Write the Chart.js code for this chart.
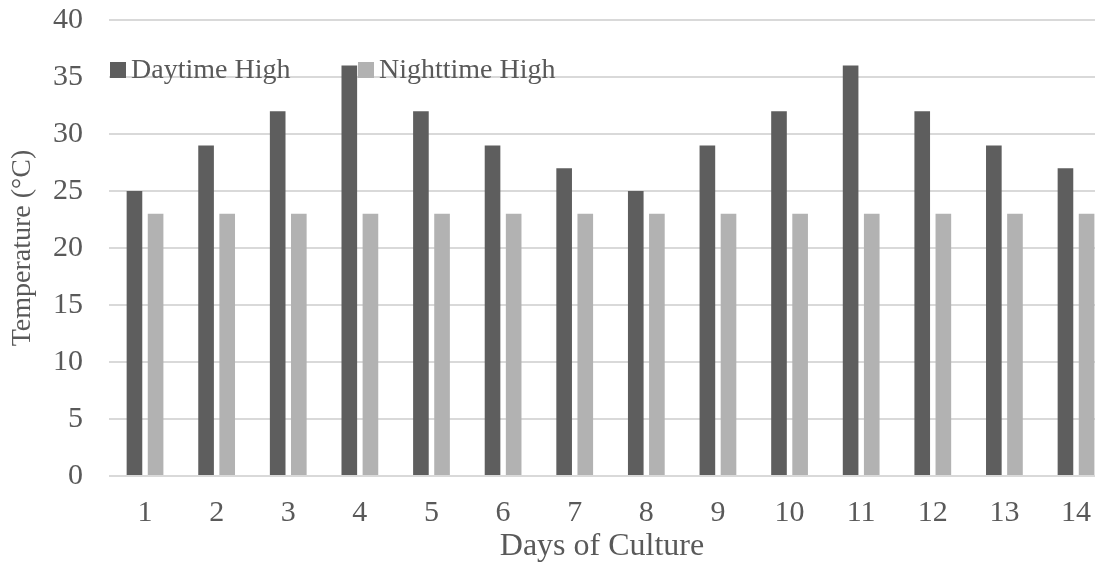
<!DOCTYPE html>
<html>
<head>
<meta charset="utf-8">
<script src="https://cdn.jsdelivr.net/npm/chart.js@4/dist/chart.umd.min.js"></script>
<style>
  html, body { margin: 0; padding: 0; background: #ffffff; }
  #wrap { width: 1105px; height: 567px; }
</style>
</head>
<body>
<div id="wrap"><canvas id="chart" width="1105" height="567"></canvas></div>
<script>
// Daily temperature highs over the culture period
const days = ['1','2','3','4','5','6','7','8','9','10','11','12','13','14'];
const daytimeHigh = [25, 29, 32, 36, 32, 29, 27, 25, 29, 32, 36, 32, 29, 27];
const nighttimeHigh = [23, 23, 23, 23, 23, 23, 23, 23, 23, 23, 23, 23, 23, 23];
const seriesNames = ['Daytime High', 'Nighttime High'];
const yTicks = { min: 0, max: 40, step: 5 };

const TEXT = '#595959';
const FONT = 'Liberation Serif, Times New Roman, serif';
const CLEAR = 'rgba(0,0,0,0)';

// Legend drawn over the top-left of the plot area
const overlayLegend = {
  id: 'overlayLegend',
  afterDraw(chart) {
    const ctx = chart.ctx;
    const area = chart.chartArea;
    const y = area.top + 50;
    const starts = [area.left + 1, area.left + 249];
    ctx.save();
    ctx.font = '28px ' + FONT;
    ctx.textBaseline = 'middle';
    chart.data.datasets.forEach((ds, i) => {
      const x = starts[i];
      ctx.fillStyle = ds.backgroundColor;
      ctx.fillRect(x, y - 8, 16, 16);
      ctx.fillStyle = TEXT;
      ctx.fillText(ds.label, x + 21, y + 1);
    });
    ctx.restore();
  }
};

// Day numbers map onto a numeric axis so the first and last days can sit
// at slightly different distances from the plot edges.
const toPoints = (arr) => arr.map((v, i) => ({ x: Number(days[i]), y: v }));

new Chart(document.getElementById('chart'), {
  type: 'bar',
  data: {
    datasets: [
      { label: seriesNames[0], data: toPoints(daytimeHigh), backgroundColor: '#5e5e5e' },
      { label: seriesNames[1], data: toPoints(nighttimeHigh), backgroundColor: '#b2b2b2' }
    ]
  },
  options: {
    responsive: false,
    animation: false,
    layout: { padding: { left: 0, right: 10, top: 0, bottom: 0 } },
    datasets: {
      bar: { categoryPercentage: 0.59, barPercentage: 0.74 }
    },
    plugins: {
      legend: { display: false },
      tooltip: { enabled: false }
    },
    scales: {
      x: {
        type: 'linear',
        offset: false,
        min: 0.497,
        max: 14.265,
        grid: {
          display: true, color: CLEAR, drawOnChartArea: false,
          drawTicks: true, tickLength: 17, tickColor: CLEAR
        },
        border: { display: false },
        afterBuildTicks(scale) {
          scale.ticks = days.map((d) => ({ value: Number(d) }));
        },
        ticks: {
          autoSkip: false,
          color: TEXT,
          font: { family: FONT, size: 30 },
          padding: 2,
          callback(value) {
            const i = days.indexOf(String(value));
            return i >= 0 ? days[i] : '';
          }
        },
        title: {
          display: true, text: 'Days of Culture', color: TEXT,
          font: { family: FONT, size: 32 }, padding: { top: 0, bottom: 1 }
        },
        afterFit(scale) { scale.height = 91; }
      },
      y: {
        min: yTicks.min, max: yTicks.max,
        grid: {
          color: '#d9d9d9', lineWidth: 2,
          drawTicks: true, tickLength: 24, tickColor: CLEAR
        },
        border: { display: false },
        ticks: { stepSize: yTicks.step, color: TEXT, font: { family: FONT, size: 30 }, padding: 2 },
        title: {
          display: true, text: 'Temperature (°C)', color: TEXT,
          font: { family: FONT, size: 28 }, padding: { top: 6, bottom: 0 }
        },
        afterFit(scale) { scale.width = 109; }
      }
    }
  },
  plugins: [overlayLegend]
});
</script>
</body>
</html>
